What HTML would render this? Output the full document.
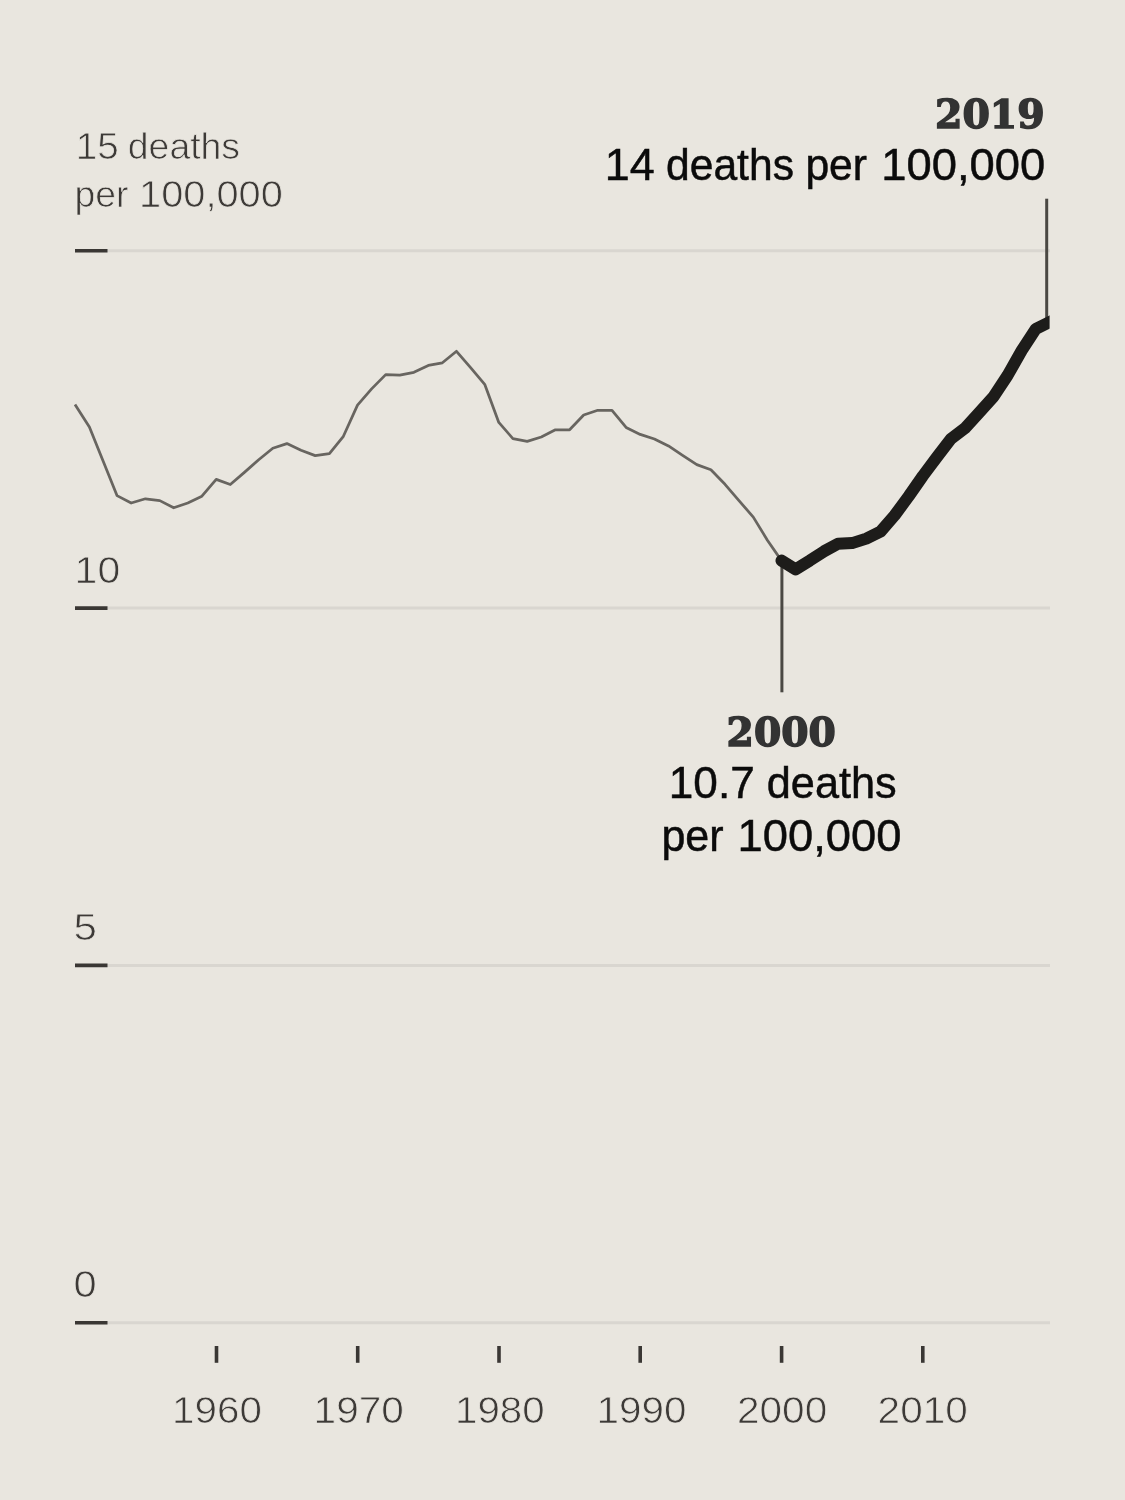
<!DOCTYPE html>
<html lang="en">
<head>
<meta charset="utf-8">
<title>Deaths per 100,000, 1950 to 2019</title>
<style>
  html, body { margin: 0; padding: 0; background: #e9e6df; }
  body { width: 1125px; height: 1500px; overflow: hidden; }
  svg { display: block; }
  text { white-space: pre; }
  .ax { font-family: "Liberation Sans", sans-serif; font-size: 37.7px; fill: #3d3a37; stroke: #e9e6df; stroke-width: 0.75px; }
  .an { font-family: "Liberation Sans", sans-serif; font-size: 44px; fill: #0b0b0b; stroke: #0b0b0b; stroke-width: 0.5px; }
  .yr { font-family: "DejaVu Serif", "Liberation Serif", serif; font-weight: bold; font-size: 39.2px; fill: #333333; stroke: #333333; stroke-width: 1.5px; stroke-linejoin: miter; }
</style>
</head>
<body>
<svg width="1125" height="1500" viewBox="0 0 1125 1500">
  <rect width="1125" height="1500" fill="#e9e6df"/>
  <g stroke="#d9d6d0" stroke-width="3">
    <line x1="75" y1="250.7" x2="1050" y2="250.7"/>
    <line x1="75" y1="608.1" x2="1050" y2="608.1"/>
    <line x1="75" y1="965.4" x2="1050" y2="965.4"/>
    <line x1="75" y1="1322.7" x2="1050" y2="1322.7"/>
  </g>
  <g stroke="#3a3734" stroke-width="3.6">
    <line x1="75" y1="250.7" x2="107.5" y2="250.7"/>
    <line x1="75" y1="608.1" x2="107.5" y2="608.1"/>
    <line x1="75" y1="965.4" x2="107.5" y2="965.4"/>
    <line x1="75" y1="1322.7" x2="107.5" y2="1322.7"/>
  </g>
  <g stroke="#3a3734" stroke-width="3.6">
    <line x1="216.5" y1="1346" x2="216.5" y2="1362.8"/>
    <line x1="357.7" y1="1346" x2="357.7" y2="1362.8"/>
    <line x1="499" y1="1346" x2="499" y2="1362.8"/>
    <line x1="640.2" y1="1346" x2="640.2" y2="1362.8"/>
    <line x1="781.6" y1="1346" x2="781.6" y2="1362.8"/>
    <line x1="922.8" y1="1346" x2="922.8" y2="1362.8"/>
  </g>
  <g stroke="#4a4843" stroke-width="3">
    <line x1="1046.7" y1="198.7" x2="1046.7" y2="318"/>
    <line x1="781.9" y1="562" x2="781.9" y2="692.3"/>
  </g>
  <polyline fill="none" stroke="#686560" stroke-width="2.75" stroke-linejoin="round" stroke-linecap="butt"
    points="75,404.6 89.4,427 103.3,461.5 117,495.6 131.2,503 145.4,498.8 159.8,500.6 173.7,507.8 187.8,503 201.9,496.2 216.2,479.4 230.3,484.5 244.4,472.4 258.7,459.7 272.8,448.2 286.9,443.6 301,450.2 315.2,455.6 329.4,453.6 343.4,436.3 357.5,405.1 371.6,388.9 385.7,374.6 399.8,375.1 413.9,372.3 428.3,365.4 442.4,362.8 456.5,351.3 470.6,367.7 484.7,384.3 498.8,422.4 512.9,438.6 527.2,441.4 541.3,437 555.4,429.8 569.6,429.8 583.7,415 597.8,410.3 612,410.3 626.1,427.4 640.2,434.4 654.4,439 668.5,445.9 682.6,455.4 696.8,464.6 710.9,469.7 725,484.3 739.2,500.9 753.3,517.1 767.4,540.2 781.5,560.6"/>
  <clipPath id="plotclip"><rect x="60" y="200" width="989.6" height="1200"/></clipPath>
  <g clip-path="url(#plotclip)">
  <polyline fill="none" stroke="#1d1c1a" stroke-width="12" stroke-linejoin="round" stroke-linecap="round"
    points="781.5,560.6 795.6,569.4 809.8,560.6 823.9,551.4 838,543.8 852.2,543.1 866.3,538.6 880.4,531.7 894.6,515.4 908.7,496.2 922.8,476 936.9,457.2 951.1,438.7 965.2,428 979.3,412.4 993.5,396.7 1007.6,375.4 1021.7,350.5 1035.9,328.8 1054,320"/>
  </g>
  <text class="ax" y="159"><tspan x="75.80" textLength="42.93" lengthAdjust="spacingAndGlyphs">15</tspan> <tspan x="127.80" textLength="112.27" lengthAdjust="spacingAndGlyphs">deaths</tspan></text>
  <text class="ax" y="206.5"><tspan x="74.40" textLength="53.95" lengthAdjust="spacingAndGlyphs">per</tspan> <tspan x="139.00" textLength="143.81" lengthAdjust="spacingAndGlyphs">100,000</tspan></text>
  <text class="ax" y="583.2"><tspan x="74.60" textLength="45.60" lengthAdjust="spacingAndGlyphs">10</tspan></text>
  <text class="ax" y="940.3"><tspan x="73.60" textLength="23.42" lengthAdjust="spacingAndGlyphs">5</tspan></text>
  <text class="ax" y="1297"><tspan x="73.40" textLength="23.16" lengthAdjust="spacingAndGlyphs">0</tspan></text>
  <text class="ax" y="1423.3"><tspan x="172.00" textLength="89.85" lengthAdjust="spacingAndGlyphs">1960</tspan> <tspan x="313.60" textLength="90.29" lengthAdjust="spacingAndGlyphs">1970</tspan> <tspan x="455.00" textLength="89.54" lengthAdjust="spacingAndGlyphs">1980</tspan> <tspan x="596.60" textLength="89.83" lengthAdjust="spacingAndGlyphs">1990</tspan> <tspan x="737.00" textLength="90.21" lengthAdjust="spacingAndGlyphs">2000</tspan> <tspan x="877.60" textLength="90.19" lengthAdjust="spacingAndGlyphs">2010</tspan></text>
  <text class="an" y="180"><tspan x="604.80" textLength="49.93" lengthAdjust="spacingAndGlyphs">14</tspan> <tspan x="666.00" textLength="127.96" lengthAdjust="spacingAndGlyphs">deaths</tspan> <tspan x="805.40" textLength="61.62" lengthAdjust="spacingAndGlyphs">per</tspan> <tspan x="881.20" textLength="164.03" lengthAdjust="spacingAndGlyphs">100,000</tspan></text>
  <text class="an" y="798"><tspan x="668.80" textLength="85.89" lengthAdjust="spacingAndGlyphs">10.7</tspan> <tspan x="766.80" textLength="129.96" lengthAdjust="spacingAndGlyphs">deaths</tspan></text>
  <text class="an" y="851.3"><tspan x="661.40" textLength="62.12" lengthAdjust="spacingAndGlyphs">per</tspan> <tspan x="737.60" textLength="163.84" lengthAdjust="spacingAndGlyphs">100,000</tspan></text>
  <text class="yr" y="128"><tspan x="935.00" textLength="109.72" lengthAdjust="spacingAndGlyphs">2019</tspan></text>
  <text class="yr" y="746"><tspan x="726.60" textLength="109.19" lengthAdjust="spacingAndGlyphs">2000</tspan></text>
</svg>
</body>
</html>
